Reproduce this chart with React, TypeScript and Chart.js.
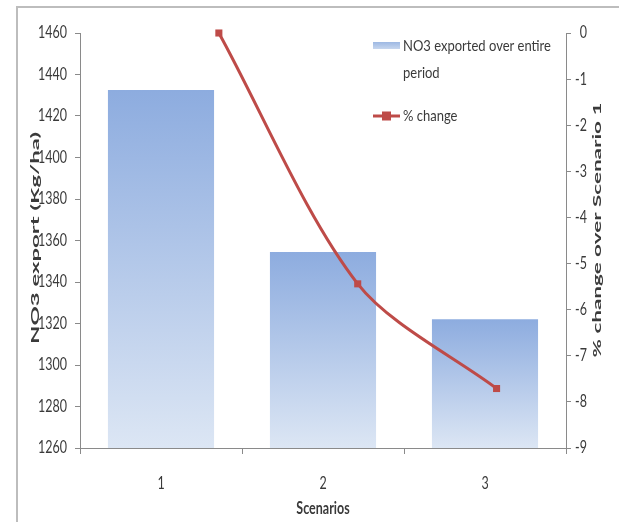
import React, { useEffect, useRef } from "react";
import { Chart, registerables } from "chart.js";

Chart.register(...registerables);

// Scenario categories and the two measured series
const scenarios = ["1", "2", "3"];
const no3Export = [1432.5, 1354.5, 1322];
const pctChange = [0, -5.44, -7.71];

// Axis ranges
const leftMin = 1260;
const leftMax = 1460;
const leftStep = 20;
const rightMin = -9;
const rightMax = 0;
const rightStep = 1;

// Legend and title wording
const barLegendLines = ["NO3 exported over entire", "period"];
const lineLegendText = "% change";
const leftTitle = "NO3 export (Kg/ha)";
const rightTitle = "% change over Scenario 1";
const bottomTitle = "Scenarios";

const BAR_TOP = "#8DACDF";
const BAR_BOTTOM = "#DCE6F4";
const LINE_RED = "#BE4B48";
const AXIS_GREY = "#8A8A8A";
const TEXT = "#3A3A3A";
const FONT = "Lato, 'Open Sans', sans-serif";

const W = 619;
const H = 522;

// Text in this chart is drawn tall and narrow; sy is the vertical stretch.
function stretchedText(
  ctx: CanvasRenderingContext2D,
  text: string,
  x: number,
  y: number,
  font: string,
  align: CanvasTextAlign,
  sy: number
) {
  ctx.save();
  ctx.font = font;
  ctx.fillStyle = TEXT;
  ctx.textAlign = align;
  ctx.textBaseline = "middle";
  ctx.translate(x, y);
  ctx.scale(1, sy);
  ctx.fillText(text, 0, 0);
  ctx.restore();
}

// Vertical title reading bottom to top, stretched to a given length
function verticalTitle(
  ctx: CanvasRenderingContext2D,
  text: string,
  x: number,
  y: number,
  length: number
) {
  ctx.save();
  ctx.font = `bold 12px ${FONT}`;
  ctx.fillStyle = TEXT;
  ctx.textAlign = "center";
  ctx.textBaseline = "middle";
  const w = ctx.measureText(text).width;
  ctx.translate(x, y);
  ctx.rotate(-Math.PI / 2);
  ctx.scale(length / w, 1);
  ctx.fillText(text, 0, 0);
  ctx.restore();
}

const decorations = {
  id: "decorations",
  beforeDraw(chart: any) {
    const { ctx } = chart;
    ctx.save();
    ctx.fillStyle = "#ffffff";
    ctx.fillRect(0, 0, W, H);
    // outer frame
    ctx.strokeStyle = "#BDBDBD";
    ctx.lineWidth = 2;
    ctx.beginPath();
    ctx.moveTo(17, H);
    ctx.lineTo(17, 7);
    ctx.lineTo(W, 7);
    ctx.stroke();
    ctx.restore();
  },
  afterDraw(chart: any) {
    const { ctx, chartArea, scales } = chart;
    const tickFont = `12.5px ${FONT}`;

    // left axis labels
    scales.y.ticks.forEach((t: any) => {
      stretchedText(ctx, String(t.value), 67, scales.y.getPixelForValue(t.value), tickFont, "right", 1.35);
    });
    // right axis labels
    scales.y2.ticks.forEach((t: any) => {
      stretchedText(ctx, String(t.value), 587, scales.y2.getPixelForValue(t.value), tickFont, "right", 1.35);
    });
    // category labels
    scenarios.forEach((c, i) => {
      stretchedText(ctx, c, scales.x.getPixelForValue(i), 484, tickFont, "center", 1.35);
    });
    // axis titles
    stretchedText(ctx, bottomTitle, (chartArea.left + chartArea.right) / 2, 509, `bold 12.5px ${FONT}`, "center", 1.3);
    verticalTitle(ctx, leftTitle, 35, 238, 212);
    verticalTitle(ctx, rightTitle, 597, 230, 255);

    // legend
    const sx = 373;
    const sw = 27;
    ctx.save();
    const g = ctx.createLinearGradient(0, 42, 0, 49);
    g.addColorStop(0, "#9DB8E3");
    g.addColorStop(1, "#C6D6EE");
    ctx.fillStyle = g;
    ctx.fillRect(sx, 42, sw, 7);
    ctx.strokeStyle = LINE_RED;
    ctx.lineWidth = 3;
    ctx.beginPath();
    ctx.moveTo(sx, 116);
    ctx.lineTo(sx + sw, 116);
    ctx.stroke();
    ctx.fillStyle = LINE_RED;
    ctx.fillRect(sx + sw / 2 - 4.5, 116 - 4.5, 9, 9);
    ctx.restore();
    const legendFont = `13px ${FONT}`;
    barLegendLines.forEach((t, i) => stretchedText(ctx, t, sx + sw + 3, 46 + i * 27, legendFont, "left", 1.25));
    stretchedText(ctx, lineLegendText, sx + sw + 3, 116, legendFont, "left", 1.25);
  },
};

function barFill(context: any) {
  const chart = context.chart;
  const area = chart.chartArea;
  if (!area) return BAR_TOP;
  const v = context.raw as number;
  const top = chart.scales.y.getPixelForValue(v);
  const g = chart.ctx.createLinearGradient(0, top, 0, area.bottom);
  g.addColorStop(0, BAR_TOP);
  g.addColorStop(1, BAR_BOTTOM);
  return g;
}

export default function App() {
  const ref = useRef<HTMLCanvasElement | null>(null);

  useEffect(() => {
    if (!ref.current) return;
    const chart = new Chart(ref.current, {
      type: "bar",
      data: {
        labels: scenarios,
        datasets: [
          {
            type: "line",
            label: lineLegendText,
            data: pctChange.map((v, i) => ({ x: i + 1, y: v })),
            xAxisID: "xLine",
            yAxisID: "y2",
            borderColor: LINE_RED,
            backgroundColor: LINE_RED,
            borderWidth: 3,
            tension: 0.3,
            pointStyle: "rect",
            pointRadius: 5,
            pointBorderWidth: 0,
            clip: false,
            order: 0,
          } as any,
          {
            type: "bar",
            label: barLegendLines.join(" "),
            data: no3Export,
            xAxisID: "x",
            yAxisID: "y",
            backgroundColor: barFill,
            borderWidth: 0,
            grouped: false,
            categoryPercentage: 1,
            barPercentage: 0.655,
            order: 1,
          } as any,
        ],
      },
      options: {
        responsive: false,
        animation: false,
        devicePixelRatio: 1,
        layout: { padding: { top: 33, left: 0, right: 0, bottom: 0 } },
        plugins: {
          legend: { display: false },
          tooltip: { enabled: false },
        },
        scales: {
          x: {
            type: "category",
            position: "bottom",
            offset: true,
            grid: {
              offset: true,
              drawOnChartArea: false,
              drawTicks: true,
              tickLength: 6,
              color: AXIS_GREY,
            },
            border: { color: AXIS_GREY, width: 1 },
            ticks: { display: false },
            afterFit: (s: any) => {
              s.height = 74;
            },
          },
          xLine: {
            type: "linear",
            display: false,
            offset: false,
            min: 0,
            max: 3.5,
          },
          y: {
            position: "left",
            min: leftMin,
            max: leftMax,
            ticks: { stepSize: leftStep, display: false },
            grid: {
              drawOnChartArea: false,
              drawTicks: true,
              tickLength: 5,
              color: AXIS_GREY,
            },
            border: { color: AXIS_GREY, width: 1 },
            afterFit: (s: any) => {
              s.width = 80;
            },
          },
          y2: {
            position: "right",
            min: rightMin,
            max: rightMax,
            ticks: { stepSize: rightStep, display: false },
            grid: {
              drawOnChartArea: false,
              drawTicks: true,
              tickLength: 5,
              color: AXIS_GREY,
            },
            border: { color: AXIS_GREY, width: 1 },
            afterFit: (s: any) => {
              s.width = 53;
            },
          },
        },
      } as any,
      plugins: [decorations],
    });
    return () => chart.destroy();
  }, []);

  return (
    <div style={{ position: "absolute", left: 0, top: 0, width: W, height: H }}>
      <canvas ref={ref} width={W} height={H} style={{ display: "block" }} />
    </div>
  );
}
